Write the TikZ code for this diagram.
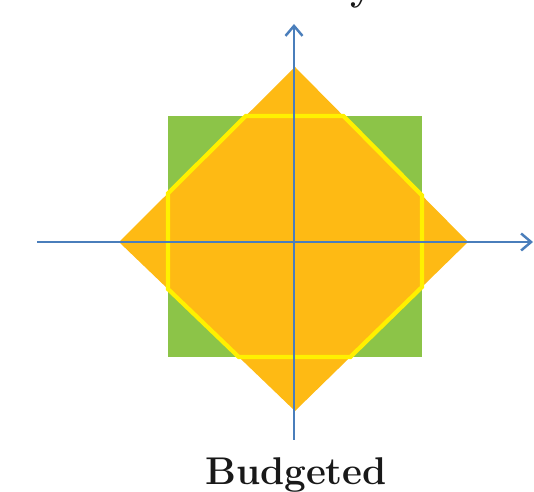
\documentclass[tikz,border=0pt]{standalone}
\usepackage{tikz}
\usetikzlibrary{arrows.meta,calc}

\definecolor{budgetgreen}{RGB}{140,196,72}
\definecolor{budgetorange}{RGB}{254,186,20}
\definecolor{budgetyellow}{RGB}{255,240,0}
\definecolor{axisblue}{RGB}{74,126,187}

\begin{document}
\begin{tikzpicture}[
    x=0.02cm, y=-0.02cm,
    sqbox/.style={fill=budgetgreen, draw=none},
    rhomb/.style={fill=budgetorange, draw=none},
    octo/.style={draw=budgetyellow, line width=2.4pt, line join=miter},
    axis/.style={-{Straight Barb[length=2mm, width=3.4mm]}, line width=1.4pt, axisblue},
    lab/.style={font=\fontsize{22}{26}\selectfont\bfseries, inner sep=0pt, text=black!90}
  ]
    \useasboundingbox (0,0) rectangle (534,492);
    % square and diamond corners
    \coordinate (sqnw) at (168,116);
    \coordinate (sqne) at (422,116);
    \coordinate (sqse) at (422,357);
    \coordinate (sqsw) at (168,357);
    \coordinate (dtop) at (295,67);
    \coordinate (dright) at (468,242);
    \coordinate (dbot) at (295,411);
    \coordinate (dleft) at (119,242);
    \fill[sqbox] (sqnw) rectangle (sqse);
    \fill[rhomb] (dtop) -- (dright) -- (dbot) -- (dleft) -- cycle;
    % outline where the two overlap
    \draw[octo]
      (intersection of dleft--dtop and sqnw--sqne) --
      (intersection of dtop--dright and sqnw--sqne) --
      (intersection of dtop--dright and sqne--sqse) --
      (intersection of dright--dbot and sqne--sqse) --
      (intersection of dright--dbot and sqse--sqsw) --
      (intersection of dbot--dleft and sqse--sqsw) --
      (intersection of dbot--dleft and sqsw--sqnw) --
      (intersection of dleft--dtop and sqsw--sqnw) -- cycle;
    % axes
    \coordinate (xleft) at (37,242);
    \coordinate (xright) at (533,242);
    \coordinate (ybot) at (294,440);
    \coordinate (ytop) at (294,24);
    \draw[axis] (xleft) -- (xright);
    \draw[axis] (ybot) -- (ytop);
    \node[lab, anchor=base] (budget) at (296,485) {Budgeted};
    \node[lab, anchor=base] (title) at (362,1) {y};
  \end{tikzpicture}
\end{document}
